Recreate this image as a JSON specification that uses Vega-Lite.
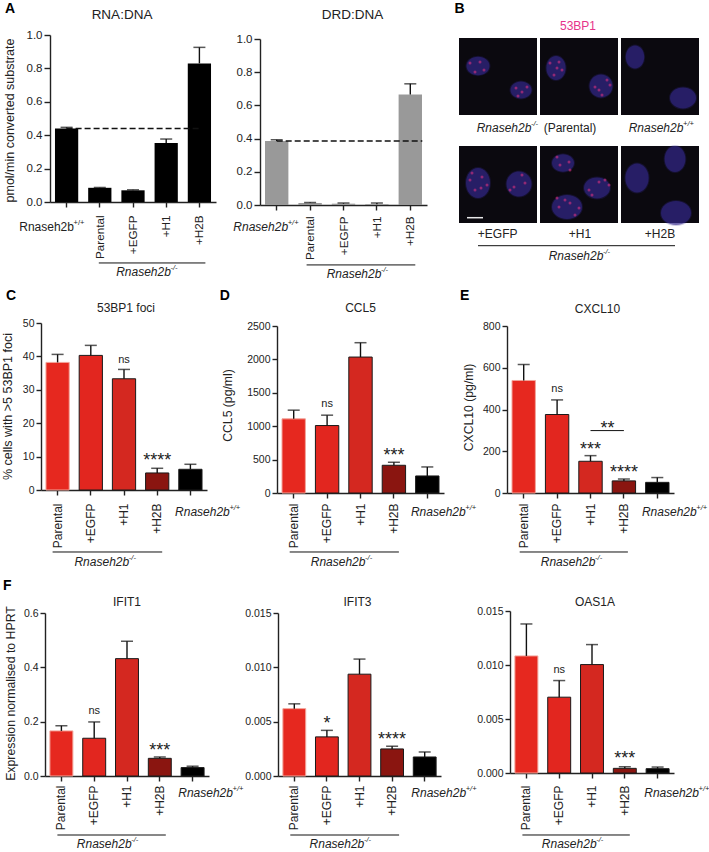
{"$schema":"https://vega.github.io/schema/vega-lite/v6.json","padding":0,"background":"white",
"config":{"font":"Liberation Sans","view":{"stroke":null},
"range":{"category":["#e2261f","#d42820","#8a1510","#e6281f","#000000"]},
"axis":{"grid":false,"domainColor":"#222","tickColor":"#222","labelColor":"#222","titleColor":"#222","labelFont":"Liberation Sans","titleFont":"Liberation Sans","titleFontWeight":"normal","tickSize":5,"domainWidth":1.4,"tickWidth":1.4,"labelOverlap":false,"labelFlush":false,"labelBound":false},
"axisX":{"labelAngle":270,"labelAlign":"right","labelBaseline":"middle","title":null,"labelFontSize":12,"labelExpr":"datum.label[0]=='R'?'':datum.label"},
"axisY":{"titleAngle":270,"titleAlign":"center","titleBaseline":"middle","labelFontSize":10.5,"titleFontSize":12.2,"labelPadding":2},
"text":{"color":"#222","fontSize":12,"baseline":"middle"},"tick":{"color":"#111","thickness":1.5,"size":12},"rule":{"color":"#111","strokeWidth":1.4},
"style":{"ital":{"fontStyle":"italic"},"let":{"fontWeight":"bold","color":"#000"}}},
"datasets":{"bars":[
{"p":"A1","c":"Rnaseh2b+/+","v":0.44,"e":0.447},{"p":"A1","c":"Parental","v":0.085,"e":0.087},{"p":"A1","c":"+EGFP","v":0.07,"e":0.073},{"p":"A1","c":"+H1","v":0.353,"e":0.377},{"p":"A1","c":"+H2B","v":0.83,"e":0.926},
{"p":"A2","c":"Rnaseh2b+/+","v":0.385,"e":0.393},{"p":"A2","c":"Parental","v":0.012,"e":0.015},{"p":"A2","c":"+EGFP","v":0.008,"e":0.012},{"p":"A2","c":"+H1","v":0.005,"e":0.012},{"p":"A2","c":"+H2B","v":0.665,"e":0.73},
{"p":"C","c":"Parental","v":38.2,"e":40.6},{"p":"C","c":"+EGFP","v":40.3,"e":43.3},{"p":"C","c":"+H1","v":33.3,"e":36.1,"s":"ns"},{"p":"C","c":"+H2B","v":5.1,"e":6.5,"s":"****"},{"p":"C","c":"Rnaseh2b+/+","v":6.2,"e":7.7},
{"p":"D","c":"Parental","v":1110,"e":1240},{"p":"D","c":"+EGFP","v":1010,"e":1165,"s":"ns"},{"p":"D","c":"+H1","v":2035,"e":2250},{"p":"D","c":"+H2B","v":415,"e":460,"s":"***"},{"p":"D","c":"Rnaseh2b+/+","v":255,"e":390},
{"p":"E","c":"Parental","v":539,"e":616},{"p":"E","c":"+EGFP","v":376,"e":446,"s":"ns"},{"p":"E","c":"+H1","v":152,"e":179,"s":"***"},{"p":"E","c":"+H2B","v":58,"e":67,"s":"****"},{"p":"E","c":"Rnaseh2b+/+","v":51,"e":74},
{"p":"F1","c":"Parental","v":0.166,"e":0.185},{"p":"F1","c":"+EGFP","v":0.139,"e":0.199,"s":"ns"},{"p":"F1","c":"+H1","v":0.432,"e":0.496},{"p":"F1","c":"+H2B","v":0.065,"e":0.07,"s":"***"},{"p":"F1","c":"Rnaseh2b+/+","v":0.031,"e":0.036},
{"p":"F2","c":"Parental","v":0.0062,"e":0.00664},{"p":"F2","c":"+EGFP","v":0.0036,"e":0.0042,"s":"*"},{"p":"F2","c":"+H1","v":0.00937,"e":0.01076},{"p":"F2","c":"+H2B","v":0.00249,"e":0.00274,"s":"****"},{"p":"F2","c":"Rnaseh2b+/+","v":0.00175,"e":0.00221},
{"p":"F3","c":"Parental","v":0.01084,"e":0.0138},{"p":"F3","c":"+EGFP","v":0.00702,"e":0.00856,"s":"ns"},{"p":"F3","c":"+H1","v":0.01004,"e":0.01189},{"p":"F3","c":"+H2B","v":0.00043,"e":0.00058,"s":"***"},{"p":"F3","c":"Rnaseh2b+/+","v":0.0004,"e":0.00055}
]},
"vconcat":[
{"hconcat":[
{"width":29,"height":10,"data":{"values":[{}]},"mark":{"type":"point","opacity":0},"encoding":{}},
{"width":189.5,"height":202,"data":{"name":"bars"},"transform":[{"filter":"datum.p=='A1'"}],
"encoding":{"x":{"field":"c","type":"nominal","scale":{"domain":["Rnaseh2b+/+","Parental","+EGFP","+H1","+H2B"],"range":[0,166],"paddingInner":0.3,"paddingOuter":0.15},"axis":{"labelPadding":8,"labelFontSize":11.7}},
"y":{"field":"v","type":"quantitative","scale":{"domain":[0,1],"range":[202,35],"nice":false},"axis":{"values":[0,0.2,0.4,0.6,0.8,1],"format":".1f","title":"pmol/min converted substrate","titleX":-41,"titleY":120,"labelFontSize":11.5,"titleFontSize":12.5,"tickSize":6}}},
"layer":[
{"mark":{"type":"bar","color":"#000"}},
{"mark":"rule","encoding":{"y2":{"field":"e"}}},
{"mark":"tick","encoding":{"y":{"field":"e","type":"quantitative"}}},
{"data":{"values":[{"p":"A1","c":"Rnaseh2b+/+","c2":"+H2B","v":0.44}]},"mark":{"type":"rule","strokeDash":[6,3],"strokeWidth":1.5},"encoding":{"x2":{"field":"c2"}}},
{"data":{"values":[{"p":"A1","c":"+EGFP","v":1.12,"t":"RNA:DNA"}]},"mark":{"type":"text","fontSize":13.5,"dx":-11},"encoding":{"text":{"field":"t"}}},
{"data":{"values":[{"p":"A1","c":"Rnaseh2b+/+","v":1.156,"t":"A"}]},"mark":{"type":"text","style":"let","fontSize":14,"dx":-56.5},"encoding":{"text":{"field":"t"}}},
{"data":{"values":[{"p":"A1","c":"Rnaseh2b+/+","v":-0.15,"t":"Rnaseh2b"}]},"mark":{"type":"text","dx":-20},"encoding":{"text":{"field":"t"}}},
{"data":{"values":[{"p":"A1","c":"Rnaseh2b+/+","v":-0.15,"t":"+/+"}]},"mark":{"type":"text","fontSize":7.5,"align":"left","dx":7,"dy":-4},"encoding":{"text":{"field":"t"}}},
{"data":{"values":[{"p":"A1","c":"Parental","c2":"+H2B","v":-0.365}]},"mark":{"type":"rule","strokeWidth":1,"xOffset":-1,"x2Offset":6},"encoding":{"x2":{"field":"c2"}}},
{"data":{"values":[{"p":"A1","c":"+EGFP","v":-0.419,"t":"Rnaseh2b"}]},"mark":{"type":"text","style":"ital","dx":10.5},"encoding":{"text":{"field":"t"}}},
{"data":{"values":[{"p":"A1","c":"+EGFP","v":-0.419,"t":"-/-"}]},"mark":{"type":"text","style":"ital","fontSize":7.5,"align":"left","dx":37.5,"dy":-4},"encoding":{"text":{"field":"t"}}}
]},
{"width":178.5,"height":205,"data":{"name":"bars"},"transform":[{"filter":"datum.p=='A2'"}],
"encoding":{"x":{"field":"c","type":"nominal","scale":{"domain":["Rnaseh2b+/+","Parental","+EGFP","+H1","+H2B"],"range":[0,167],"paddingInner":0.3,"paddingOuter":0.15},"axis":{"labelPadding":6,"labelFontSize":11.7}},
"y":{"field":"v","type":"quantitative","scale":{"domain":[0,1],"range":[205,39],"nice":false},"axis":{"values":[0,0.2,0.4,0.6,0.8,1],"format":".1f","title":null,"labelFontSize":11.5,"tickSize":6}}},
"layer":[
{"mark":{"type":"bar","color":"#999999"}},
{"mark":"rule","encoding":{"y2":{"field":"e"}}},
{"mark":"tick","encoding":{"y":{"field":"e","type":"quantitative"}}},
{"data":{"values":[{"p":"A2","c":"Rnaseh2b+/+","c2":"+H2B","v":0.385}]},"mark":{"type":"rule","strokeDash":[6,3],"strokeWidth":1.5,"x2Offset":12},"encoding":{"x2":{"field":"c2"}}},
{"data":{"values":[{"p":"A2","c":"+EGFP","v":1.146,"t":"DRD:DNA"}]},"mark":{"type":"text","fontSize":13.5,"dx":9},"encoding":{"text":{"field":"t"}}},
{"data":{"values":[{"p":"A2","c":"Rnaseh2b+/+","v":-0.1325,"t":"Rnaseh2b"}]},"mark":{"type":"text","style":"ital","dx":-16},"encoding":{"text":{"field":"t"}}},
{"data":{"values":[{"p":"A2","c":"Rnaseh2b+/+","v":-0.1325,"t":"+/+"}]},"mark":{"type":"text","style":"ital","fontSize":7.5,"align":"left","dx":11,"dy":-4},"encoding":{"text":{"field":"t"}}},
{"data":{"values":[{"p":"A2","c":"Parental","c2":"+H2B","v":-0.361}]},"mark":{"type":"rule","strokeWidth":1,"xOffset":-3.5,"x2Offset":5},"encoding":{"x2":{"field":"c2"}}},
{"data":{"values":[{"p":"A2","c":"+EGFP","v":-0.416,"t":"Rnaseh2b"}]},"mark":{"type":"text","style":"ital","dx":10.5},"encoding":{"text":{"field":"t"}}},
{"data":{"values":[{"p":"A2","c":"+EGFP","v":-0.416,"t":"-/-"}]},"mark":{"type":"text","style":"ital","fontSize":7.5,"align":"left","dx":37.5,"dy":-4},"encoding":{"text":{"field":"t"}}}
]},
{"width":240,"height":223,"data":{"values":[{}]},
"layer":[
{"data":{"values":[{"x":457,"x2":535,"y":38,"y2":115},{"x":538,"x2":616,"y":38,"y2":115},{"x":619,"x2":697,"y":38,"y2":115},{"x":457,"x2":535,"y":146,"y2":223},{"x":538,"x2":616,"y":146,"y2":223},{"x":619,"x2":697,"y":146,"y2":223}]},"mark":{"type":"rect","color":"#0b090f"},
"encoding":{"x":{"field":"x","type":"quantitative","scale":{"domain":[457,697],"range":[0,240],"nice":false,"zero":false},"axis":null},"x2":{"field":"x2"},"y":{"field":"y","type":"quantitative","scale":{"domain":[0,223],"range":[0,223],"nice":false},"axis":null},"y2":{"field":"y2"}}},
{"data":{"values":[{"x":476,"y":66,"a":529,"f":"w"},{"x":519,"y":90,"a":441,"f":"w"},{"x":554,"y":68,"a":576,"f":"t"},{"x":599,"y":86,"a":529,"f":"r"},{"x":633,"y":57,"a":529,"f":"t"},{"x":681,"y":98,"a":676,"f":"w"},{"x":476,"y":183,"a":900,"f":"t"},{"x":517,"y":184,"a":625,"f":"r"},{"x":561,"y":163,"a":484,"f":"w"},{"x":595,"y":188,"a":676,"f":"w"},{"x":565,"y":207,"a":900,"f":"w"},{"x":635,"y":178,"a":841,"f":"t"},{"x":673,"y":159,"a":676,"f":"t"},{"x":674,"y":213,"a":900,"f":"w"}]},
"mark":{"type":"point","filled":true,"color":"#33288c","stroke":"#33288c","strokeWidth":2,"strokeOpacity":0.35},
"encoding":{"x":{"field":"x","type":"quantitative","axis":null},"y":{"field":"y","type":"quantitative","axis":null},"size":{"field":"a","type":"quantitative","scale":{"domain":[0,900],"range":[0,900]},"legend":null},"shape":{"field":"f","type":"nominal","legend":null,"scale":{"domain":["w","t","r"],"range":["M-1,0A1,0.8 0 1,1 1,0A1,0.8 0 1,1 -1,0Z","M0,-1A0.8,1 0 1,1 0,1A0.8,1 0 1,1 0,-1Z","M-1,0A1,1 0 1,1 1,0A1,1 0 1,1 -1,0Z"]}}}},
{"data":{"values":[{"x":468,"y":63},{"x":478,"y":62},{"x":482,"y":70},{"x":473,"y":72},{"x":514,"y":88},{"x":520,"y":92},{"x":516,"y":96},{"x":525,"y":87},{"x":548,"y":63},{"x":557,"y":62},{"x":560,"y":70},{"x":552,"y":75},{"x":555,"y":68},{"x":597,"y":90},{"x":605,"y":80},{"x":593,"y":87},{"x":608,"y":85},{"x":600,"y":95},{"x":468,"y":180},{"x":480,"y":177},{"x":485,"y":185},{"x":473,"y":190},{"x":479,"y":188},{"x":470,"y":173},{"x":512,"y":187},{"x":520,"y":175},{"x":508,"y":190},{"x":523,"y":183},{"x":555,"y":157},{"x":567,"y":162},{"x":568,"y":170},{"x":558,"y":165},{"x":587,"y":190},{"x":597,"y":182},{"x":607,"y":185},{"x":603,"y":180},{"x":590,"y":195},{"x":555,"y":198},{"x":568,"y":203},{"x":573,"y":215},{"x":563,"y":200},{"x":557,"y":207},{"x":577,"y":208}]},
"mark":{"type":"circle","color":"#d9307f","size":9,"opacity":0.6},"encoding":{"x":{"field":"x","type":"quantitative","axis":null},"y":{"field":"y","type":"quantitative","axis":null}}},
{"data":{"values":[{"x":465,"x2":481,"y":217.7}]},"mark":{"type":"rule","color":"#e8e8e8","strokeWidth":1.5},"encoding":{"x":{"field":"x","type":"quantitative","axis":null},"x2":{"field":"x2"},"y":{"field":"y","type":"quantitative","axis":null}}},
{"data":{"values":[{"x":476,"x2":673,"y":245.7}]},"mark":{"type":"rule","strokeWidth":1},"encoding":{"x":{"field":"x","type":"quantitative","axis":null},"x2":{"field":"x2"},"y":{"field":"y","type":"quantitative","axis":null}}},
{"data":{"values":[{"x":576,"y":25.7,"t":"53BP1"}]},"mark":{"type":"text","color":"#e6338a"},"encoding":{"x":{"field":"x","type":"quantitative","axis":null},"y":{"field":"y","type":"quantitative","axis":null},"text":{"field":"t"}}},
{"data":{"values":[{"x":568,"y":127.7,"t":"(Parental)"},{"x":495.7,"y":234,"t":"+EGFP"},{"x":578,"y":234,"t":"+H1"},{"x":658,"y":234,"t":"+H2B"}]},"mark":{"type":"text"},"encoding":{"x":{"field":"x","type":"quantitative","axis":null},"y":{"field":"y","type":"quantitative","axis":null},"text":{"field":"t"}}},
{"data":{"values":[{"x":508,"y":127.7,"t":"Rnaseh2b"},{"x":660,"y":127.7,"t":"Rnaseh2b"},{"x":580,"y":256,"t":"Rnaseh2b"}]},"mark":{"type":"text","style":"ital","dx":-6},"encoding":{"x":{"field":"x","type":"quantitative","axis":null},"y":{"field":"y","type":"quantitative","axis":null},"text":{"field":"t"}}},
{"data":{"values":[{"x":508,"y":127.7,"t":"-/-"},{"x":660,"y":127.7,"t":"+/+"},{"x":580,"y":256,"t":"-/-"}]},"mark":{"type":"text","style":"ital","fontSize":7.5,"align":"left","dx":21,"dy":-4},"encoding":{"x":{"field":"x","type":"quantitative","axis":null},"y":{"field":"y","type":"quantitative","axis":null},"text":{"field":"t"}}},
{"data":{"values":[{"x":457.5,"y":9,"t":"B"}]},"mark":{"type":"text","style":"let","fontSize":14},"encoding":{"x":{"field":"x","type":"quantitative","axis":null},"y":{"field":"y","type":"quantitative","axis":null},"text":{"field":"t"}}}
]}
],"spacing":20,"bounds":"flush"},
{"hconcat":[
{"width":20,"height":10,"data":{"values":[{}]},"mark":{"type":"point","opacity":0},"encoding":{}},
{"width":216,"height":205,"data":{"name":"bars"},"transform":[{"filter":"datum.p=='C'"}],
"encoding":{"x":{"field":"c","type":"nominal","scale":{"domain":["Parental","+EGFP","+H1","+H2B","Rnaseh2b+/+"],"range":[0,166],"paddingInner":0.3,"paddingOuter":0.15},"axis":{"labelPadding":8}},
"y":{"field":"v","type":"quantitative","scale":{"domain":[0,50],"range":[205,38],"nice":false},"axis":{"values":[0,10,20,30,40,50],"title":"% cells with >5 53BP1 foci","titleX":-34,"titleY":121,"titleFontSize":12.5}}},
"layer":[
{"mark":{"type":"bar","strokeWidth":1},"encoding":{"color":{"field":"c","legend":null},"stroke":{"condition":{"test":"datum.c=='Parental'","value":"#f2a49a"},"value":"#1a1a1a"}}},
{"mark":"rule","encoding":{"y2":{"field":"e"}}},
{"mark":"tick","encoding":{"y":{"field":"e","type":"quantitative"}}},
{"transform":[{"filter":"datum.s=='ns'"}],"mark":{"type":"text","fontSize":11,"dy":-9},"encoding":{"y":{"field":"e","type":"quantitative"},"text":{"field":"s"}}},
{"transform":[{"filter":"datum.s&&datum.s!='ns'"}],"mark":{"type":"text","fontSize":18,"dy":-7},"encoding":{"y":{"field":"e","type":"quantitative"},"text":{"field":"s"}}},
{"data":{"values":[{"p":"C","c":"+H1","v":54.5,"t":"53BP1 foci"}]},"mark":{"type":"text","dx":2},"encoding":{"text":{"field":"t"}}},
{"data":{"values":[{"p":"C","c":"Parental","v":58.1,"t":"C"}]},"mark":{"type":"text","style":"let","fontSize":14,"dx":-46.5},"encoding":{"text":{"field":"t"}}},
{"data":{"values":[{"p":"C","c":"Rnaseh2b+/+","v":-6.5,"t":"Rnaseh2b"}]},"mark":{"type":"text","style":"ital","dx":12},"encoding":{"text":{"field":"t"}}},
{"data":{"values":[{"p":"C","c":"Rnaseh2b+/+","v":-6.5,"t":"+/+"}]},"mark":{"type":"text","style":"ital","fontSize":7.5,"align":"left","dx":39,"dy":-4},"encoding":{"text":{"field":"t"}}},
{"data":{"values":[{"p":"C","c":"Parental","c2":"+H2B","v":-18.56}]},"mark":{"type":"rule","strokeWidth":1,"xOffset":-5,"x2Offset":5},"encoding":{"x2":{"field":"c2"}}},
{"data":{"values":[{"p":"C","c":"+EGFP","v":-21.6,"t":"Rnaseh2b"}]},"mark":{"type":"text","style":"ital","dx":11},"encoding":{"text":{"field":"t"}}},
{"data":{"values":[{"p":"C","c":"+EGFP","v":-21.6,"t":"-/-"}]},"mark":{"type":"text","style":"ital","fontSize":7.5,"align":"left","dx":38,"dy":-4},"encoding":{"text":{"field":"t"}}}
]},
{"width":210,"height":208,"data":{"name":"bars"},"transform":[{"filter":"datum.p=='D'"}],
"encoding":{"x":{"field":"c","type":"nominal","scale":{"domain":["Parental","+EGFP","+H1","+H2B","Rnaseh2b+/+"],"range":[0,167],"paddingInner":0.3,"paddingOuter":0.15},"axis":{"labelPadding":5}},
"y":{"field":"v","type":"quantitative","scale":{"domain":[0,2500],"range":[208,41],"nice":false},"axis":{"values":[0,500,1000,1500,2000,2500],"format":"d","title":"CCL5 (pg/ml)","titleX":-50,"titleY":120}}},
"layer":[
{"mark":{"type":"bar","strokeWidth":1},"encoding":{"color":{"field":"c","legend":null},"stroke":{"condition":{"test":"datum.c=='Parental'","value":"#f2a49a"},"value":"#1a1a1a"}}},
{"mark":"rule","encoding":{"y2":{"field":"e"}}},
{"mark":"tick","encoding":{"y":{"field":"e","type":"quantitative"}}},
{"transform":[{"filter":"datum.s=='ns'"}],"mark":{"type":"text","fontSize":11,"dy":-11},"encoding":{"y":{"field":"e","type":"quantitative"},"text":{"field":"s"}}},
{"transform":[{"filter":"datum.s&&datum.s!='ns'"}],"mark":{"type":"text","fontSize":18,"dy":-6},"encoding":{"y":{"field":"e","type":"quantitative"},"text":{"field":"s"}}},
{"data":{"values":[{"p":"D","c":"+H1","v":2769,"t":"CCL5"}]},"mark":{"type":"text"},"encoding":{"text":{"field":"t"}}},
{"data":{"values":[{"p":"D","c":"Parental","v":2949,"t":"D"}]},"mark":{"type":"text","style":"let","fontSize":14,"dx":-69},"encoding":{"text":{"field":"t"}}},
{"data":{"values":[{"p":"D","c":"Rnaseh2b+/+","v":-280,"t":"Rnaseh2b"}]},"mark":{"type":"text","style":"ital","dx":11},"encoding":{"text":{"field":"t"}}},
{"data":{"values":[{"p":"D","c":"Rnaseh2b+/+","v":-280,"t":"+/+"}]},"mark":{"type":"text","style":"ital","fontSize":7.5,"align":"left","dx":38,"dy":-4},"encoding":{"text":{"field":"t"}}},
{"data":{"values":[{"p":"D","c":"Parental","c2":"+H2B","v":-883}]},"mark":{"type":"rule","strokeWidth":1,"xOffset":-4,"x2Offset":5},"encoding":{"x2":{"field":"c2"}}},
{"data":{"values":[{"p":"D","c":"+EGFP","v":-1033,"t":"Rnaseh2b"}]},"mark":{"type":"text","style":"ital","dx":11},"encoding":{"text":{"field":"t"}}},
{"data":{"values":[{"p":"D","c":"+EGFP","v":-1033,"t":"-/-"}]},"mark":{"type":"text","style":"ital","fontSize":7.5,"align":"left","dx":38,"dy":-4},"encoding":{"text":{"field":"t"}}}
]},
{"width":167,"height":208,"data":{"name":"bars"},"transform":[{"filter":"datum.p=='E'"}],
"encoding":{"x":{"field":"c","type":"nominal","scale":{"domain":["Parental","+EGFP","+H1","+H2B","Rnaseh2b+/+"],"range":[0,167],"paddingInner":0.3,"paddingOuter":0.15},"axis":{"labelPadding":5}},
"y":{"field":"v","type":"quantitative","scale":{"domain":[0,800],"range":[208,41],"nice":false},"axis":{"values":[0,200,400,600,800],"title":"CXCL10 (pg/ml)","titleX":-39,"titleY":122}}},
"layer":[
{"mark":{"type":"bar","strokeWidth":1},"encoding":{"color":{"field":"c","legend":null},"stroke":{"condition":{"test":"datum.c=='Parental'","value":"#f2a49a"},"value":"#1a1a1a"}}},
{"mark":"rule","encoding":{"y2":{"field":"e"}}},
{"mark":"tick","encoding":{"y":{"field":"e","type":"quantitative"}}},
{"transform":[{"filter":"datum.s=='ns'"}],"mark":{"type":"text","fontSize":11,"dy":-11},"encoding":{"y":{"field":"e","type":"quantitative"},"text":{"field":"s"}}},
{"transform":[{"filter":"datum.s&&datum.s!='ns'"}],"mark":{"type":"text","fontSize":18,"dy":-6},"encoding":{"y":{"field":"e","type":"quantitative"},"text":{"field":"s"}}},
{"data":{"values":[{"p":"E","c":"+H1","c2":"+H2B","v":299}]},"mark":{"type":"rule","strokeWidth":1},"encoding":{"x2":{"field":"c2"}}},
{"data":{"values":[{"p":"E","c":"+H1","v":307,"t":"**"}]},"mark":{"type":"text","fontSize":18,"dx":17},"encoding":{"text":{"field":"t"}}},
{"data":{"values":[{"p":"E","c":"+H1","v":881,"t":"CXCL10"}]},"mark":{"type":"text","dx":7},"encoding":{"text":{"field":"t"}}},
{"data":{"values":[{"p":"E","c":"Parental","v":943.6,"t":"E"}]},"mark":{"type":"text","style":"let","fontSize":14,"dx":-59},"encoding":{"text":{"field":"t"}}},
{"data":{"values":[{"p":"E","c":"Rnaseh2b+/+","v":-89.6,"t":"Rnaseh2b"}]},"mark":{"type":"text","style":"ital","dx":12},"encoding":{"text":{"field":"t"}}},
{"data":{"values":[{"p":"E","c":"Rnaseh2b+/+","v":-89.6,"t":"+/+"}]},"mark":{"type":"text","style":"ital","fontSize":7.5,"align":"left","dx":39,"dy":-4},"encoding":{"text":{"field":"t"}}},
{"data":{"values":[{"p":"E","c":"Parental","c2":"+H2B","v":-282.6}]},"mark":{"type":"rule","strokeWidth":1,"xOffset":-4,"x2Offset":4},"encoding":{"x2":{"field":"c2"}}},
{"data":{"values":[{"p":"E","c":"+EGFP","v":-330.6,"t":"Rnaseh2b"}]},"mark":{"type":"text","style":"ital","dx":11},"encoding":{"text":{"field":"t"}}},
{"data":{"values":[{"p":"E","c":"+EGFP","v":-330.6,"t":"-/-"}]},"mark":{"type":"text","style":"ital","fontSize":7.5,"align":"left","dx":38,"dy":-4},"encoding":{"text":{"field":"t"}}}
]}
],"spacing":20,"bounds":"flush"},
{"hconcat":[
{"width":24,"height":10,"data":{"values":[{}]},"mark":{"type":"point","opacity":0},"encoding":{}},
{"width":213,"height":206,"data":{"name":"bars"},"transform":[{"filter":"datum.p=='F1'"}],
"encoding":{"x":{"field":"c","type":"nominal","scale":{"domain":["Parental","+EGFP","+H1","+H2B","Rnaseh2b+/+"],"range":[0,164],"paddingInner":0.3,"paddingOuter":0.15},"axis":{"labelPadding":4}},
"y":{"field":"v","type":"quantitative","scale":{"domain":[0,0.6],"range":[206,43],"nice":false},"axis":{"values":[0,0.2,0.4,0.6],"format":".1f","title":"Expression normalised to HPRT","titleX":-35,"titleY":123,"titleFontSize":12.3}}},
"layer":[
{"mark":{"type":"bar","strokeWidth":1},"encoding":{"color":{"field":"c","legend":null},"stroke":{"condition":{"test":"datum.c=='Parental'","value":"#f2a49a"},"value":"#1a1a1a"}}},
{"mark":"rule","encoding":{"y2":{"field":"e"}}},
{"mark":"tick","encoding":{"y":{"field":"e","type":"quantitative"}}},
{"transform":[{"filter":"datum.s=='ns'"}],"mark":{"type":"text","fontSize":11,"dy":-11},"encoding":{"y":{"field":"e","type":"quantitative"},"text":{"field":"s"}}},
{"transform":[{"filter":"datum.s&&datum.s!='ns'"}],"mark":{"type":"text","fontSize":18,"dy":-6},"encoding":{"y":{"field":"e","type":"quantitative"},"text":{"field":"s"}}},
{"data":{"values":[{"p":"F1","c":"+H1","v":0.64,"t":"IFIT1"}]},"mark":{"type":"text"},"encoding":{"text":{"field":"t"}}},
{"data":{"values":[{"p":"F1","c":"Parental","v":0.699,"t":"F"}]},"mark":{"type":"text","style":"let","fontSize":14,"dx":-54},"encoding":{"text":{"field":"t"}}},
{"data":{"values":[{"p":"F1","c":"Rnaseh2b+/+","v":-0.0637,"t":"Rnaseh2b"}]},"mark":{"type":"text","style":"ital","dx":13},"encoding":{"text":{"field":"t"}}},
{"data":{"values":[{"p":"F1","c":"Rnaseh2b+/+","v":-0.0637,"t":"+/+"}]},"mark":{"type":"text","style":"ital","fontSize":7.5,"align":"left","dx":40,"dy":-4},"encoding":{"text":{"field":"t"}}},
{"data":{"values":[{"p":"F1","c":"Parental","c2":"+H2B","v":-0.2172}]},"mark":{"type":"rule","strokeWidth":1,"xOffset":-4,"x2Offset":6},"encoding":{"x2":{"field":"c2"}}},
{"data":{"values":[{"p":"F1","c":"+EGFP","v":-0.2503,"t":"Rnaseh2b"}]},"mark":{"type":"text","style":"ital","dx":10},"encoding":{"text":{"field":"t"}}},
{"data":{"values":[{"p":"F1","c":"+EGFP","v":-0.2503,"t":"-/-"}]},"mark":{"type":"text","style":"ital","fontSize":7.5,"align":"left","dx":37,"dy":-4},"encoding":{"text":{"field":"t"}}}
]},
{"width":212,"height":206,"data":{"name":"bars"},"transform":[{"filter":"datum.p=='F2'"}],
"encoding":{"x":{"field":"c","type":"nominal","scale":{"domain":["Parental","+EGFP","+H1","+H2B","Rnaseh2b+/+"],"range":[0,163],"paddingInner":0.3,"paddingOuter":0.15},"axis":{"labelPadding":4}},
"y":{"field":"v","type":"quantitative","scale":{"domain":[0,0.015],"range":[206,43],"nice":false},"axis":{"values":[0,0.005,0.01,0.015],"format":".3f","title":null}}},
"layer":[
{"mark":{"type":"bar","strokeWidth":1},"encoding":{"color":{"field":"c","legend":null},"stroke":{"condition":{"test":"datum.c=='Parental'","value":"#f2a49a"},"value":"#1a1a1a"}}},
{"mark":"rule","encoding":{"y2":{"field":"e"}}},
{"mark":"tick","encoding":{"y":{"field":"e","type":"quantitative"}}},
{"transform":[{"filter":"datum.s=='ns'"}],"mark":{"type":"text","fontSize":11,"dy":-11},"encoding":{"y":{"field":"e","type":"quantitative"},"text":{"field":"s"}}},
{"transform":[{"filter":"datum.s&&datum.s!='ns'"}],"mark":{"type":"text","fontSize":18,"dy":-6},"encoding":{"y":{"field":"e","type":"quantitative"},"text":{"field":"s"}}},
{"data":{"values":[{"p":"F2","c":"+H1","v":0.01601,"t":"IFIT3"}]},"mark":{"type":"text","dx":-2},"encoding":{"text":{"field":"t"}}},
{"data":{"values":[{"p":"F2","c":"Rnaseh2b+/+","v":-0.00159,"t":"Rnaseh2b"}]},"mark":{"type":"text","style":"ital","dx":14},"encoding":{"text":{"field":"t"}}},
{"data":{"values":[{"p":"F2","c":"Rnaseh2b+/+","v":-0.00159,"t":"+/+"}]},"mark":{"type":"text","style":"ital","fontSize":7.5,"align":"left","dx":41,"dy":-4},"encoding":{"text":{"field":"t"}}},
{"data":{"values":[{"p":"F2","c":"Parental","c2":"+H2B","v":-0.00543}]},"mark":{"type":"rule","strokeWidth":1,"xOffset":-4,"x2Offset":7},"encoding":{"x2":{"field":"c2"}}},
{"data":{"values":[{"p":"F2","c":"+EGFP","v":-0.00626,"t":"Rnaseh2b"}]},"mark":{"type":"text","style":"ital","dx":10},"encoding":{"text":{"field":"t"}}},
{"data":{"values":[{"p":"F2","c":"+EGFP","v":-0.00626,"t":"-/-"}]},"mark":{"type":"text","style":"ital","fontSize":7.5,"align":"left","dx":37,"dy":-4},"encoding":{"text":{"field":"t"}}}
]},
{"width":164,"height":203,"data":{"name":"bars"},"transform":[{"filter":"datum.p=='F3'"}],
"encoding":{"x":{"field":"c","type":"nominal","scale":{"domain":["Parental","+EGFP","+H1","+H2B","Rnaseh2b+/+"],"range":[0,164],"paddingInner":0.3,"paddingOuter":0.15},"axis":{"labelPadding":7}},
"y":{"field":"v","type":"quantitative","scale":{"domain":[0,0.015],"range":[203,41],"nice":false},"axis":{"values":[0,0.005,0.01,0.015],"format":".3f","title":null}}},
"layer":[
{"mark":{"type":"bar","strokeWidth":1},"encoding":{"color":{"field":"c","legend":null},"stroke":{"condition":{"test":"datum.c=='Parental'","value":"#f2a49a"},"value":"#1a1a1a"}}},
{"mark":"rule","encoding":{"y2":{"field":"e"}}},
{"mark":"tick","encoding":{"y":{"field":"e","type":"quantitative"}}},
{"transform":[{"filter":"datum.s=='ns'"}],"mark":{"type":"text","fontSize":11,"dy":-11},"encoding":{"y":{"field":"e","type":"quantitative"},"text":{"field":"s"}}},
{"transform":[{"filter":"datum.s&&datum.s!='ns'"}],"mark":{"type":"text","fontSize":18,"dy":-8},"encoding":{"y":{"field":"e","type":"quantitative"},"text":{"field":"s"}}},
{"data":{"values":[{"p":"F3","c":"+H1","v":0.01583,"t":"OAS1A"}]},"mark":{"type":"text","dx":3},"encoding":{"text":{"field":"t"}}},
{"data":{"values":[{"p":"F3","c":"Rnaseh2b+/+","v":-0.00185,"t":"Rnaseh2b"}]},"mark":{"type":"text","style":"ital","dx":14},"encoding":{"text":{"field":"t"}}},
{"data":{"values":[{"p":"F3","c":"Rnaseh2b+/+","v":-0.00185,"t":"+/+"}]},"mark":{"type":"text","style":"ital","fontSize":7.5,"align":"left","dx":41,"dy":-4},"encoding":{"text":{"field":"t"}}},
{"data":{"values":[{"p":"F3","c":"Parental","c2":"+H2B","v":-0.00574}]},"mark":{"type":"rule","strokeWidth":1,"xOffset":-4,"x2Offset":5},"encoding":{"x2":{"field":"c2"}}},
{"data":{"values":[{"p":"F3","c":"+EGFP","v":-0.00657,"t":"Rnaseh2b"}]},"mark":{"type":"text","style":"ital","dx":10},"encoding":{"text":{"field":"t"}}},
{"data":{"values":[{"p":"F3","c":"+EGFP","v":-0.00657,"t":"-/-"}]},"mark":{"type":"text","style":"ital","fontSize":7.5,"align":"left","dx":37,"dy":-4},"encoding":{"text":{"field":"t"}}}
]}
],"spacing":20,"bounds":"flush"}
],"spacing":285,"bounds":"flush"}
